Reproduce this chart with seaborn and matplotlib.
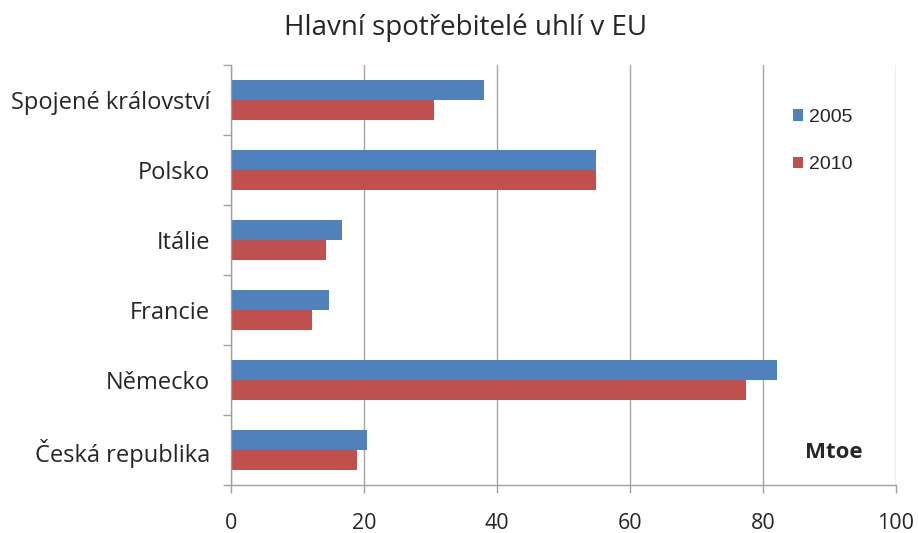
import matplotlib
matplotlib.use("Agg")
import matplotlib.pyplot as plt
import seaborn as sns
import pandas as pd
from matplotlib.patches import Patch
from matplotlib.ticker import FixedLocator

countries = ["Spojené království", "Polsko", "Itálie", "Francie", "Německo", "Česká republika"]
years = ["2005", "2010"]
values_2005 = [38.0, 54.9, 16.7, 14.7, 82.1, 20.4]
values_2010 = [30.6, 54.9, 14.3, 12.2, 77.5, 18.9]
x_ticks = [0, 20, 40, 60, 80, 100]
colors = ["#4F81BD", "#C0504D"]

df = pd.DataFrame({
    "country": countries * 2,
    "year": [years[0]] * len(countries) + [years[1]] * len(countries),
    "value": values_2005 + values_2010,
})

sns.set_theme(style="white")
plt.rcParams["font.family"] = ["Open Sans", "DejaVu Sans"]

W, H = 918, 533
fig = plt.figure(figsize=(W / 100, H / 100), dpi=100)
ax = fig.add_axes([231 / W, 1 - 485 / H, 665 / W, 420 / H])

sns.barplot(data=df, y="country", x="value", hue="year", order=countries,
            hue_order=years, palette=colors, width=0.57, orient="h",
            saturation=1, legend=False, ax=ax, edgecolor="none", linewidth=0)

ax.set_xlim(0, 100)
ax.set_ylim(len(countries) - 0.5, -0.5)
ax.set_xticks(x_ticks)
ax.set_xticklabels([str(t) for t in x_ticks], fontsize=15.5)
ax.set_xlabel("")
ax.set_ylabel("")
ax.tick_params(axis="y", which="major", length=0, labelsize=17, pad=15)
ax.tick_params(axis="x", which="major", length=5.8, width=1, color="#A0A0A0", pad=14.5,
               direction="out", bottom=True)
ax.yaxis.set_minor_locator(FixedLocator([i - 0.5 for i in range(len(countries) + 1)]))
ax.tick_params(axis="y", which="minor", length=5.8, color="#A0A0A0", width=1, left=True, direction="out")

ax.grid(axis="x", color="#A6A6A6", linewidth=1)
ax.set_axisbelow(True)
for s in ["top", "right"]:
    ax.spines[s].set_visible(False)
for s in ["left", "bottom"]:
    ax.spines[s].set_color("#A0A0A0")
    ax.spines[s].set_linewidth(1)

fig.text(466 / W, 1 - 28 / H, "Hlavní spotřebitelé uhlí v EU", ha="center", va="center", fontsize=20)

handles = [Patch(facecolor=c, edgecolor="none") for c in colors]
leg = ax.legend(handles, years, loc="upper left", bbox_to_anchor=(793 / W, 1 - 109 / H),
                bbox_transform=fig.transFigure, frameon=False, borderpad=0, borderaxespad=0,
                prop={"family": "Liberation Sans", "size": 14}, labelspacing=1.55,
                handlelength=0.52, handleheight=0.52, handletextpad=0.28)

ax.text((834 - 231) / 665, (485 - 452) / 420, "Mtoe", transform=ax.transAxes, ha="center",
        va="center", fontsize=16, fontweight="bold")

fig.savefig("out.png", dpi=100)
